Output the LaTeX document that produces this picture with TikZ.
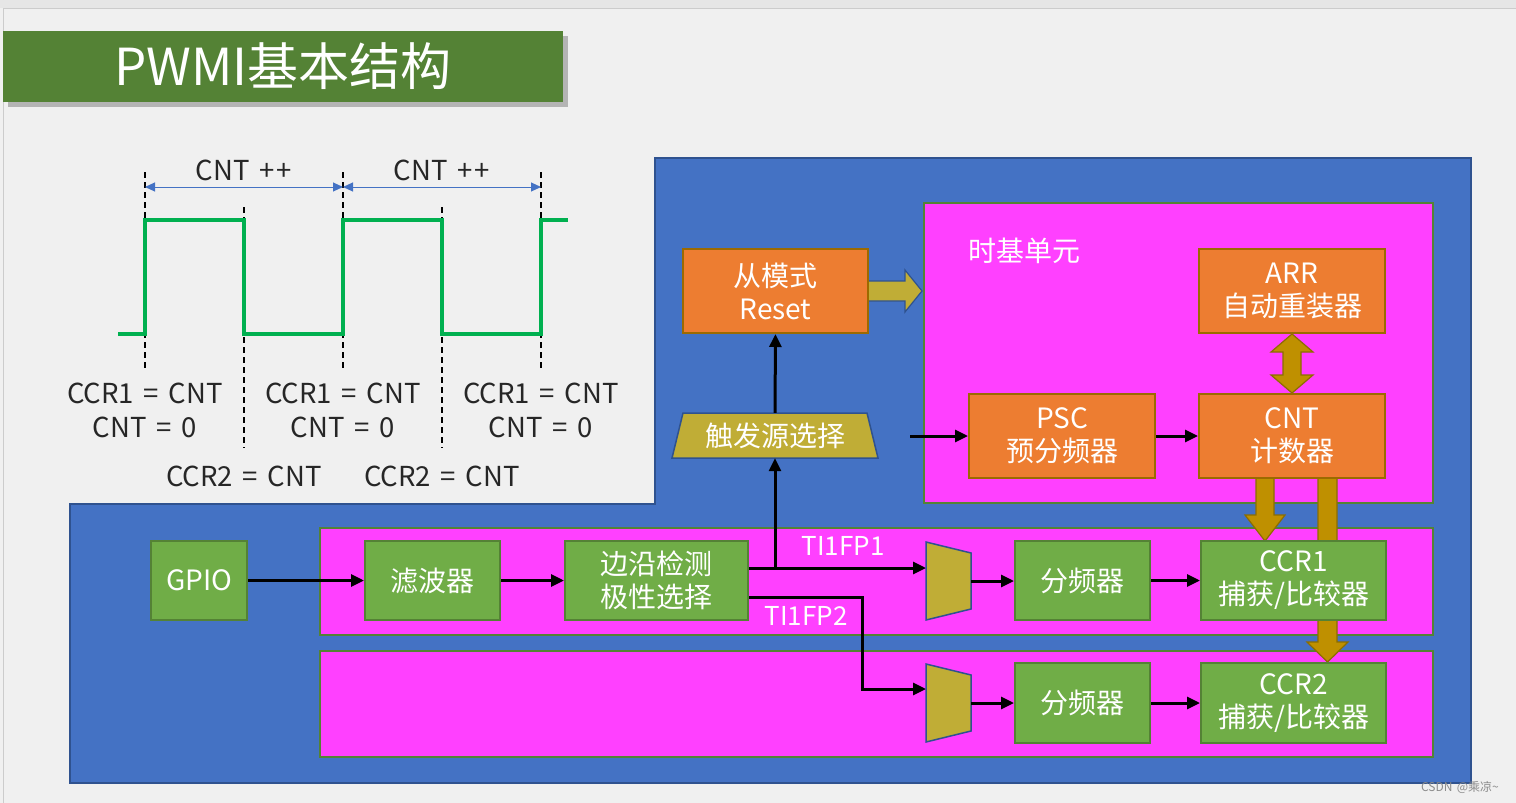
\documentclass[tikz,border=0pt]{standalone}
\usepackage{fontspec}
\setmainfont{Noto Sans CJK SC}[WordSpace=1.6]
\usetikzlibrary{arrows.meta}
\definecolor{bgc}{HTML}{F0F0F0}
\definecolor{topc}{HTML}{E6E6E6}
\definecolor{titlegreen}{HTML}{548235}
\definecolor{blueA}{HTML}{4472C4}
\definecolor{blueB}{HTML}{2F528F}
\definecolor{pinkc}{HTML}{FF40FF}
\definecolor{orangec}{HTML}{ED7D31}
\definecolor{orangeb}{HTML}{9C6A00}
\definecolor{greenc}{HTML}{70AD47}
\definecolor{goldc}{HTML}{BF9000}
\definecolor{goldb}{HTML}{8C6D00}
\definecolor{olivec}{HTML}{C0AD36}
\definecolor{wavec}{HTML}{00B050}
\definecolor{txtc}{HTML}{262626}
\begin{document}
\begin{tikzpicture}[x=1pt,y=-1pt,
  boxtext/.style={text=white,align=center,font=\fontsize{28}{33}\selectfont},
  labtext/.style={text=white,align=center,font=\fontsize{26}{33}\selectfont},
  pinkbox/.style={fill=pinkc,draw=titlegreen,line width=1.5pt,inner sep=0pt},
  obox/.style={boxtext,fill=orangec,draw=orangeb,line width=2pt,inner sep=0pt},
  gbox/.style={boxtext,fill=greenc,draw=titlegreen,line width=2pt,inner sep=0pt},
  sig/.style={line width=3pt,-{Triangle[length=13pt,width=12pt]}},
  dashline/.style={line width=1.5pt,dash pattern=on 6pt off 4pt},
  wavetext/.style={text=txtc,align=center,font=\fontsize{27.5}{34}\selectfont},
  goldarrow/.style={fill=goldc,draw=goldb,line width=1.2pt},
  olivearrow/.style={fill=olivec,draw=blueB,line width=1.2pt}]
\useasboundingbox (0,0) rectangle (1516,803);
\fill[bgc] (0,0) rectangle (1516,803);
\fill[topc] (0,0) rectangle (1516,8);
\draw[black!20,line width=1pt] (3,803) -- (3,8) -- (1516,8);
% title
\fill[black!45,opacity=0.6] (8,36) rectangle (568,107);
\node[fill=titlegreen,minimum width=560,minimum height=71,inner sep=0pt,text=white,font=\fontsize{51}{60}\selectfont] (title) at (283,66.5) {PWMI基本结构};
% waveform
\draw[dashline] (145,172) -- (145,368);
\draw[dashline] (343,172) -- (343,368);
\draw[dashline] (541,172) -- (541,368);
\draw[dashline] (244,207) -- (244,448);
\draw[dashline] (442,207) -- (442,448);
\draw[wavec,line width=3.5pt] (118,334) -- (145,334) -- (145,220) -- (244,220) -- (244,334) -- (343,334) -- (343,220) -- (442,220) -- (442,334) -- (541,334) -- (541,220) -- (568,220);
\draw[blueA,line width=1pt,{Triangle[length=10pt,width=9pt]}-{Triangle[length=10pt,width=9pt]}] (145,187) -- (343,187);
\draw[blueA,line width=1pt,{Triangle[length=10pt,width=9pt]}-{Triangle[length=10pt,width=9pt]}] (343,187) -- (541,187);
\node[wavetext] (cnt1) at (244,170) {CNT +\kern2pt+};
\node[wavetext] (cnt2) at (442,170) {CNT +\kern2pt+};
\node[wavetext] (eq1) at (145,410) {CCR1 = CNT\\CNT = 0};
\node[wavetext] (eq2) at (343,410) {CCR1 = CNT\\CNT = 0};
\node[wavetext] (eq3) at (541,410) {CCR1 = CNT\\CNT = 0};
\node[wavetext] (eq4) at (244,476) {CCR2 = CNT};
\node[wavetext] (eq5) at (442,476) {CCR2 = CNT};
% blue region
\filldraw[fill=blueA,draw=blueB,line width=1.5pt] (655,158) -- (1471,158) -- (1471,783) -- (70,783) -- (70,504) -- (655,504) -- cycle;
% pink regions
\node[pinkbox,minimum width=509,minimum height=300] (tb) at (1178.5,353) {};
\node[pinkbox,minimum width=1113,minimum height=107] (row1) at (876.5,581.5) {};
\node[pinkbox,minimum width=1113,minimum height=106] (row2) at (876.5,704) {};
\node[boxtext] (tblabel) at (1024,251) {时基单元};
% gold arrows
\filldraw[goldarrow] (1256,478) -- (1274,478) -- (1274,515) -- (1285,515) -- (1265,541) -- (1245,515) -- (1256,515) -- cycle;
\filldraw[goldarrow] (1318,478) -- (1337,478) -- (1337,642) -- (1348,642) -- (1327.5,662) -- (1307,642) -- (1318,642) -- cycle;
\filldraw[goldarrow] (1292,334) -- (1313,352) -- (1301,352) -- (1301,375) -- (1313,375) -- (1292,393) -- (1271,375) -- (1283,375) -- (1283,352) -- (1271,352) -- cycle;
\filldraw[olivearrow] (868,281) -- (905,281) -- (905,270) -- (922,291) -- (905,312) -- (905,301) -- (868,301) -- cycle;
% orange boxes
\node[obox,minimum width=186,minimum height=84] (arr) at (1292,291) {ARR\\自动重装器};
\node[obox,minimum width=186,minimum height=84] (cnt) at (1292,436) {CNT\\计数器};
\node[obox,minimum width=186,minimum height=84] (psc) at (1062,436) {PSC\\预分频器};
\node[obox,minimum width=185,minimum height=84] (slave) at (775.5,291) {从模式\\Reset};
% trigger
\filldraw[fill=olivec,draw=blueB,line width=1.5pt] (683,413) -- (867,413) -- (878,458) -- (672,458) -- cycle;
\node[boxtext,minimum width=206,minimum height=45,inner sep=0pt] (trig) at (775,435.5) {触发源选择};
% green boxes
\node[gbox,minimum width=96,minimum height=79] (gpio) at (199,580.5) {GPIO};
\node[gbox,minimum width=135,minimum height=79] (filter) at (432.5,580.5) {滤波器};
\node[gbox,minimum width=183,minimum height=79] (edge) at (656.5,580.5) {边沿检测\\极性选择};
\node[gbox,minimum width=135,minimum height=79] (div1) at (1082.5,580.5) {分频器};
\node[gbox,minimum width=185,minimum height=79] (ccr1) at (1293.5,580.5) {CCR1\\捕获/比较器};
\node[gbox,minimum width=135,minimum height=80] (div2) at (1082.5,703) {分频器};
\node[gbox,minimum width=185,minimum height=80] (ccr2) at (1293.5,703) {CCR2\\捕获/比较器};
% muxes
\filldraw[fill=olivec,draw=blueB,line width=1.5pt] (926,542) -- (971,553) -- (971,609) -- (926,620) -- cycle;
\filldraw[fill=olivec,draw=blueB,line width=1.5pt] (926,664) -- (971,675) -- (971,731) -- (926,742) -- cycle;
\coordinate (mux1in) at (926,568);
\coordinate (mux1out) at (971,581);
\coordinate (mux2in) at (926,689);
\coordinate (mux2out) at (971,703);
\coordinate (br) at (775,568);
\coordinate (ti2) at (862,597);
\coordinate (clk) at (910,436);
% connectors
\draw[sig] (gpio.east) -- (filter.west);
\draw[sig] (filter.east) -- (edge.west);
\draw[sig] (edge.east |- mux1in) -- (mux1in);
\draw[sig] (br) -- (trig.south);
\draw[sig] (trig.north) -- (slave.south);
\draw[sig] (edge.east |- ti2) -- (ti2) |- (mux2in);
\draw[sig] (mux1out) -- (mux1out -| div1.west);
\draw[sig] (div1.east) -- (ccr1.west);
\draw[sig] (mux2out) -- (mux2out -| div2.west);
\draw[sig] (div2.east) -- (ccr2.west);
\draw[sig] (clk) -- (psc.west);
\draw[sig] (psc.east) -- (cnt.west);
\node[labtext] (ti1lab) at (843,546) {TI1FP1};
\node[labtext] (ti2lab) at (806,616) {TI1FP2};
% watermark
\node[text=black!45,font=\fontsize{12}{14}\selectfont] (wm) at (1460,787) {CSDN @乘凉\textasciitilde};
\end{tikzpicture}
\end{document}
